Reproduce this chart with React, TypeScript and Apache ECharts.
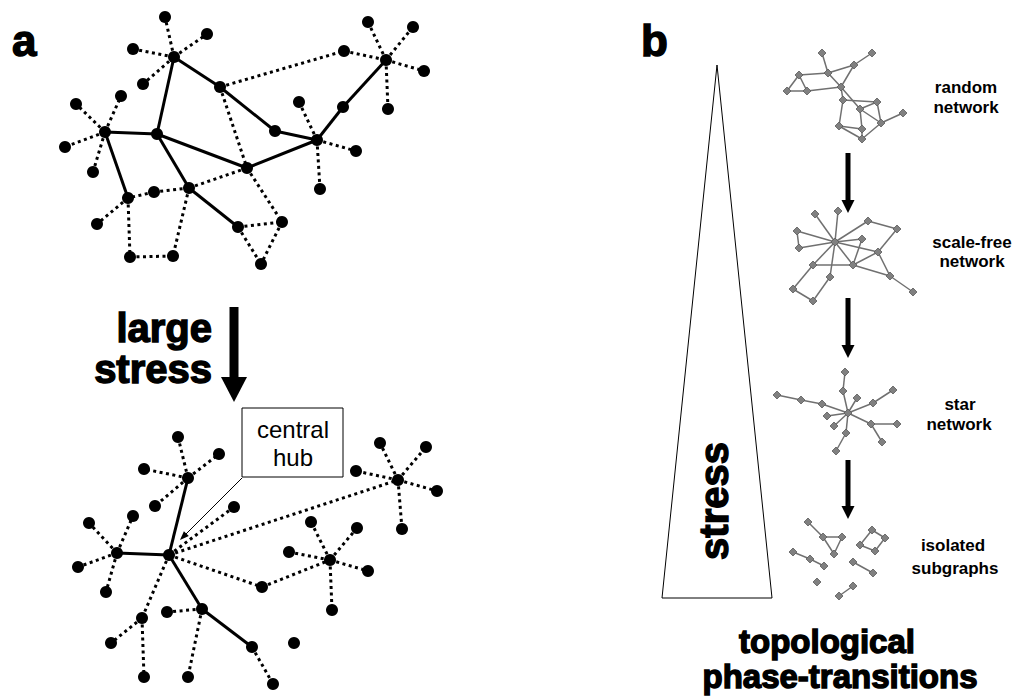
import React, { useEffect, useRef } from "react";
import * as echarts from "echarts";

// ---------- data: panel a, before stress ----------
const topNodes: [number, number][] = [
  [165, 17], [207, 34], [133, 49], [174, 57], [143, 84], [220, 87], [121, 96], [76, 104],
  [105, 132], [65, 147], [93, 172], [157, 134], [275, 131], [317, 140], [247, 168], [189, 188],
  [154, 192], [128, 198], [97, 224], [130, 257], [173, 256], [238, 227], [282, 222], [261, 264],
  [344, 51], [386, 60], [368, 22], [413, 27], [424, 71], [388, 109], [343, 107], [299, 102],
  [356, 151], [320, 189],
];
const topSolid: [number, number][] = [
  [3, 5], [3, 11], [5, 12], [12, 13], [13, 30], [30, 25], [8, 11], [11, 14], [14, 13], [8, 17], [11, 15], [15, 21],
];
const topDotted: [number, number][] = [
  [3, 0], [3, 1], [3, 2], [3, 4], [5, 24], [24, 25], [25, 26], [25, 27], [25, 28], [25, 29],
  [5, 14], [14, 22], [21, 22], [21, 23], [22, 23], [14, 15], [15, 16], [16, 17], [15, 20],
  [17, 19], [19, 20], [17, 18], [8, 6], [8, 7], [8, 9], [8, 10], [13, 31], [13, 32], [13, 33],
];

// ---------- data: panel a, after stress ----------
const bottomNodes: [number, number][] = [
  [169, 555], [188, 478], [178, 437], [219, 454], [144, 469], [155, 506], [117, 553], [89, 523],
  [133, 516], [78, 567], [106, 592], [202, 609], [167, 612], [188, 677], [252, 647], [273, 684],
  [142, 618], [111, 643], [144, 677], [294, 643], [234, 507], [262, 587], [330, 560], [311, 522],
  [357, 528], [289, 552], [368, 571], [332, 610], [398, 480], [380, 443], [426, 447], [356, 471],
  [437, 491], [402, 529],
];
const bottomSolid: [number, number][] = [[0, 1], [0, 6], [0, 11], [11, 14]];
const bottomDotted: [number, number][] = [
  [1, 2], [1, 3], [1, 4], [1, 5], [6, 7], [6, 8], [6, 9], [6, 10], [11, 12], [11, 13], [14, 15],
  [0, 16], [16, 17], [16, 18], [0, 20], [0, 21], [21, 22], [22, 23], [22, 24], [22, 25], [22, 26],
  [22, 27], [0, 28], [28, 29], [28, 30], [28, 31], [28, 32], [28, 33],
];

// ---------- data: panel b, small networks ----------
const randomNodes: [number, number][] = [
  [822, 53], [872, 53], [854, 65], [828, 73], [799, 75], [787, 91], [807, 91], [841, 87],
  [843, 100], [877, 102], [860, 109], [903, 113], [881, 123], [839, 126], [862, 129], [862, 139],
];
const randomEdges: [number, number][] = [
  [0, 3], [1, 2], [2, 3], [2, 7], [3, 7], [3, 4], [4, 5], [4, 6], [5, 6], [6, 7], [7, 8], [7, 10],
  [8, 9], [8, 13], [9, 10], [9, 12], [10, 12], [10, 14], [13, 14], [13, 15], [14, 15], [15, 12], [11, 12],
];
const scaleFreeNodes: [number, number][] = [
  [815, 214], [838, 211], [868, 221], [897, 229], [797, 231], [835, 242], [862, 239], [799, 248],
  [878, 252], [813, 265], [853, 265], [830, 277], [890, 276], [793, 289], [813, 301], [913, 292],
];
const scaleFreeEdges: [number, number][] = [
  [5, 0], [5, 1], [5, 2], [5, 4], [5, 6], [5, 7], [5, 8], [5, 9], [5, 10], [5, 11], [2, 3], [3, 8],
  [4, 7], [6, 10], [9, 10], [9, 13], [13, 14], [14, 11], [10, 12], [8, 12], [12, 15], [10, 8],
];
const starNodes: [number, number][] = [
  [848, 413], [845, 372], [843, 391], [777, 395], [801, 400], [822, 404], [857, 398], [873, 403],
  [893, 390], [827, 416], [834, 426], [871, 424], [897, 424], [882, 442], [846, 433], [836, 451],
];
const starEdges: [number, number][] = [
  [1, 2], [2, 0], [3, 4], [4, 5], [5, 0], [6, 0], [7, 0], [7, 8], [9, 0], [10, 0], [11, 0],
  [11, 12], [11, 13], [14, 0], [14, 15],
];
const isolatedNodes: [number, number][] = [
  [808, 522], [823, 537], [842, 537], [834, 554], [872, 530], [885, 538], [860, 545], [875, 551],
  [793, 552], [810, 559], [824, 566], [853, 562], [873, 573], [817, 582], [853, 586], [839, 596],
];
const isolatedEdges: [number, number][] = [
  [0, 1], [1, 2], [2, 3], [3, 1], [4, 5], [5, 7], [7, 6], [6, 4], [8, 9], [9, 10], [11, 12], [14, 15],
];

// ---------- annotations ----------
const stressArrow: number[][] = [[234, 307, 234, 402]];
const phaseArrows: number[][] = [
  [848, 153, 848, 213],
  [848, 298, 848, 358],
  [848, 460, 848, 519],
];
const pointerArrow: number[][] = [[242, 478, 180, 540]];
const stressTriangle: [number, number][] = [[717, 65], [772, 598], [662, 598], [717, 65]];
const hubBox: [number, number][] = [[242, 408], [343, 408], [343, 477], [242, 477], [242, 408]];

const FONT = "'Liberation Sans', Arial, Helvetica, sans-serif";

function bigGraph(nodes: [number, number][], solid: [number, number][], dotted: [number, number][]) {
  return {
    type: "graph",
    coordinateSystem: "cartesian2d",
    silent: true,
    symbol: "circle",
    symbolSize: 12,
    itemStyle: { color: "#000" },
    label: { show: false },
    data: nodes.map((p) => ({ value: p })),
    links: [
      ...dotted.map(([s, t]) => ({
        source: s,
        target: t,
        lineStyle: { color: "#000", width: 3, type: [3, 3.5], opacity: 1 },
      })),
      ...solid.map(([s, t]) => ({
        source: s,
        target: t,
        lineStyle: { color: "#000", width: 3, type: "solid", opacity: 1 },
      })),
    ],
    z: 3,
  };
}

function smallGraph(nodes: [number, number][], edges: [number, number][]) {
  return {
    type: "graph",
    coordinateSystem: "cartesian2d",
    silent: true,
    symbol: "diamond",
    symbolSize: 8,
    itemStyle: { color: "#808080", borderColor: "#5a5a5a", borderWidth: 0.8 },
    label: { show: false },
    data: nodes.map((p) => ({ value: p })),
    links: edges.map(([s, t]) => ({ source: s, target: t })),
    lineStyle: { color: "#707070", width: 1.5, opacity: 1 },
    z: 3,
  };
}

function arrowSeries(data: number[][], shaft: number, headLen: number, headW: number) {
  return {
    type: "custom",
    coordinateSystem: "cartesian2d",
    silent: true,
    encode: { x: [0, 2], y: [1, 3] },
    data,
    z: 4,
    renderItem: (_params: any, api: any) => {
      const p1 = api.coord([api.value(0), api.value(1)]);
      const p2 = api.coord([api.value(2), api.value(3)]);
      const dx = p2[0] - p1[0];
      const dy = p2[1] - p1[1];
      const len = Math.hypot(dx, dy) || 1;
      const ux = dx / len;
      const uy = dy / len;
      const bx = p2[0] - ux * headLen;
      const by = p2[1] - uy * headLen;
      const px = -uy;
      const py = ux;
      return {
        type: "group",
        children: [
          {
            type: "line",
            shape: { x1: p1[0], y1: p1[1], x2: bx + ux, y2: by + uy },
            style: { stroke: "#000", lineWidth: shaft },
          },
          {
            type: "polygon",
            shape: {
              points: [
                [p2[0], p2[1]],
                [bx + (px * headW) / 2, by + (py * headW) / 2],
                [bx - (px * headW) / 2, by - (py * headW) / 2],
              ],
            },
            style: { fill: "#000" },
          },
        ],
      };
    },
  };
}

function outline(points: [number, number][]) {
  return {
    type: "line",
    silent: true,
    data: points,
    symbol: "none",
    lineStyle: { color: "#000", width: 1 },
    z: 2,
  };
}

function txt(text: string, x: number, y: number, size: number, weight: string, align = "center", heavy = false, rotation = 0) {
  return {
    type: "text",
    x,
    y,
    rotation,
    silent: true,
    z: 10,
    style: {
      text,
      fontSize: size,
      fontWeight: weight,
      fontFamily: FONT,
      fill: "#000",
      align,
      verticalAlign: "middle",
      ...(heavy ? { stroke: "#000", lineWidth: 1.4 } : {}),
    },
  };
}

export default function App() {
  const ref = useRef<HTMLDivElement>(null);
  useEffect(() => {
    if (!ref.current) return;
    const chart = echarts.init(ref.current, null, { renderer: "svg" });
    chart.setOption({
      animation: false,
      backgroundColor: "#fff",
      grid: { left: 0, right: 0, top: 0, bottom: 0 },
      xAxis: { type: "value", min: 0, max: 1017, show: false },
      yAxis: { type: "value", min: 0, max: 696, inverse: true, show: false },
      series: [
        bigGraph(topNodes, topSolid, topDotted),
        bigGraph(bottomNodes, bottomSolid, bottomDotted),
        smallGraph(randomNodes, randomEdges),
        smallGraph(scaleFreeNodes, scaleFreeEdges),
        smallGraph(starNodes, starEdges),
        smallGraph(isolatedNodes, isolatedEdges),
        arrowSeries(stressArrow, 9, 25, 26),
        arrowSeries(phaseArrows, 5, 13, 13),
        arrowSeries(pointerArrow, 1, 9, 7),
        outline(stressTriangle),
        outline(hubBox),
      ],
      graphic: [
        txt("a", 12, 40, 44, "bold", "left", true),
        txt("b", 641, 40, 44, "bold", "left", true),
        txt("large", 212, 328, 40, "bold", "right", true),
        txt("stress", 212, 369, 40, "bold", "right", true),
        txt("central", 293, 429, 24, "normal"),
        txt("hub", 293, 457, 24, "normal"),
        txt("stress", 714, 501, 40, "bold", "center", true, Math.PI / 2),
        txt("random", 966, 87, 17, "bold"),
        txt("network", 966, 107, 17, "bold"),
        txt("scale-free", 972, 242, 17, "bold"),
        txt("network", 972, 261, 17, "bold"),
        txt("star", 960, 404, 17, "bold"),
        txt("network", 959, 424, 17, "bold"),
        txt("isolated", 953, 545, 17, "bold"),
        txt("subgraphs", 955, 568, 17, "bold"),
        txt("topological", 827, 641, 33, "bold", "center", true),
        txt("phase-transitions", 840, 676, 33, "bold", "center", true),
      ],
    });
    return () => chart.dispose();
  }, []);
  return (
    <div
      ref={ref}
      style={{ position: "absolute", left: 0, top: 0, width: 1017, height: 696 }}
    />
  );
}
